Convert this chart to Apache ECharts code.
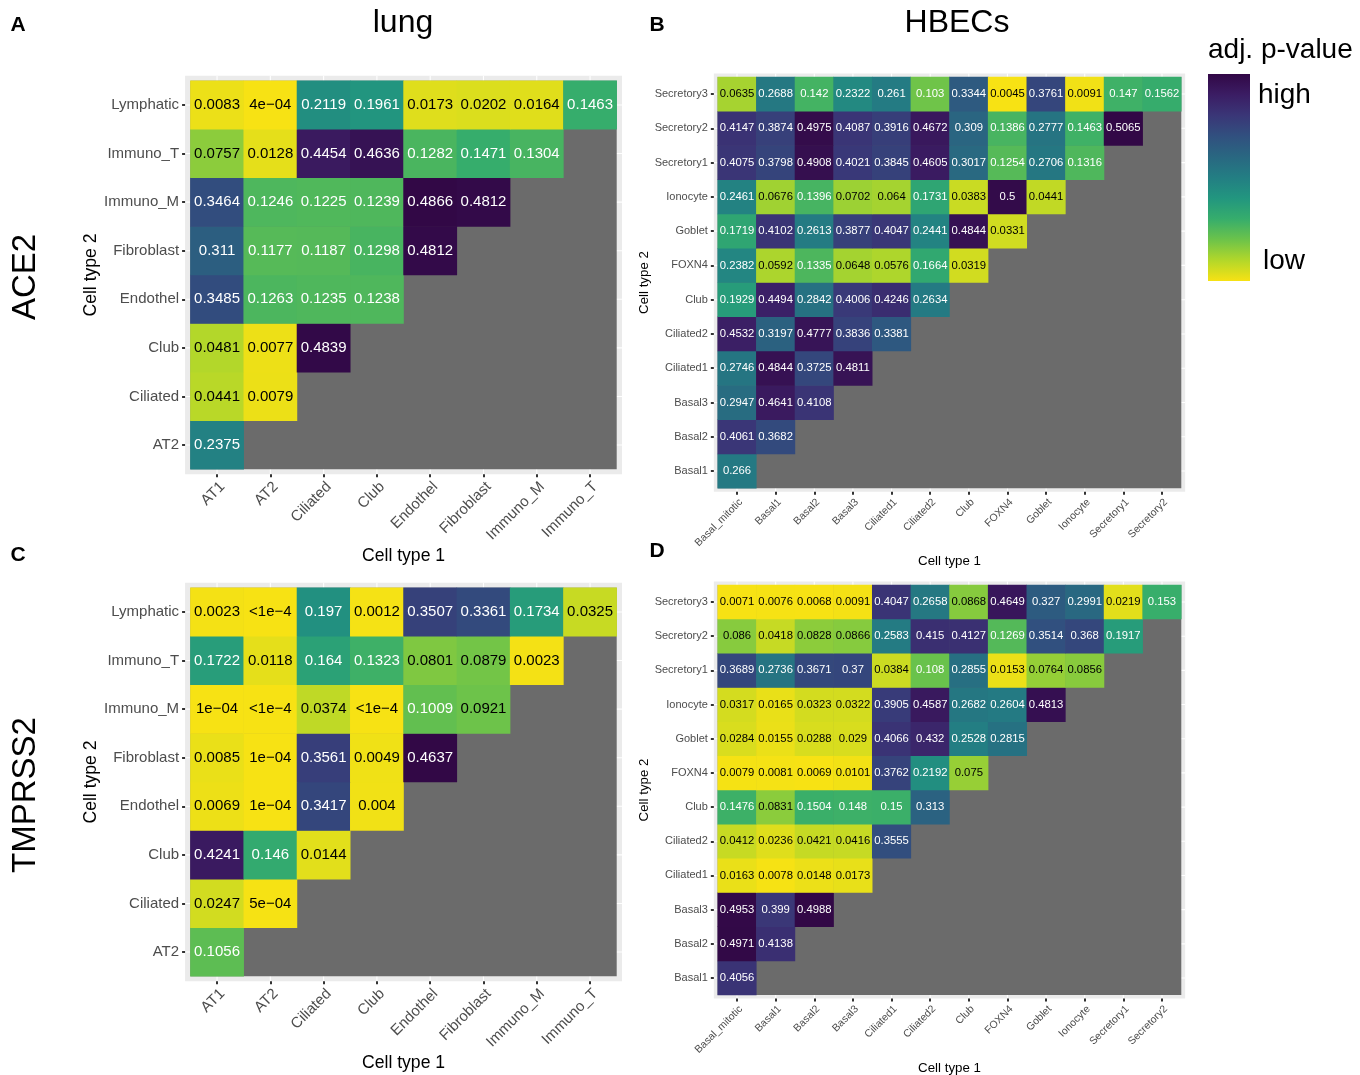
<!DOCTYPE html>
<html><head><meta charset="utf-8">
<script src="https://cdn.jsdelivr.net/npm/echarts@6/dist/echarts.min.js"></script>
<style>html,body{margin:0;padding:0;background:#fff}#c{width:1360px;height:1075px}</style>
</head><body><div id="c"></div>
<script>
// ---------- categories ----------
const lungX = ['AT1','AT2','Ciliated','Club','Endothel','Fibroblast','Immuno_M','Immuno_T'];
const lungY = ['AT2','Ciliated','Club','Endothel','Fibroblast','Immuno_M','Immuno_T','Lymphatic'];
const hbecX = ['Basal_mitotic','Basal1','Basal2','Basal3','Ciliated1','Ciliated2','Club','FOXN4','Goblet','Ionocyte','Secretory1','Secretory2'];
const hbecY = ['Basal1','Basal2','Basal3','Ciliated1','Ciliated2','Club','FOXN4','Goblet','Ionocyte','Secretory1','Secretory2','Secretory3'];

// ---------- values (row per Cell type 2, bottom to top; entries per Cell type 1) ----------
// 0 stands for "<1e-4"
const ace2Lung = [
  [0.2375],
  [0.0441, 0.0079],
  [0.0481, 0.0077, 0.4839],
  [0.3485, 0.1263, 0.1235, 0.1238],
  [0.311, 0.1177, 0.1187, 0.1298, 0.4812],
  [0.3464, 0.1246, 0.1225, 0.1239, 0.4866, 0.4812],
  [0.0757, 0.0128, 0.4454, 0.4636, 0.1282, 0.1471, 0.1304],
  [0.0083, 0.0004, 0.2119, 0.1961, 0.0173, 0.0202, 0.0164, 0.1463]
];
const tmprss2Lung = [
  [0.1056],
  [0.0247, 0.0005],
  [0.4241, 0.146, 0.0144],
  [0.0069, 0.0001, 0.3417, 0.004],
  [0.0085, 0.0001, 0.3561, 0.0049, 0.4637],
  [0.0001, 0, 0.0374, 0, 0.1009, 0.0921],
  [0.1722, 0.0118, 0.164, 0.1323, 0.0801, 0.0879, 0.0023],
  [0.0023, 0, 0.197, 0.0012, 0.3507, 0.3361, 0.1734, 0.0325]
];
const ace2Hbec = [
  [0.266],
  [0.4061, 0.3682],
  [0.2947, 0.4641, 0.4108],
  [0.2746, 0.4844, 0.3725, 0.4811],
  [0.4532, 0.3197, 0.4777, 0.3836, 0.3381],
  [0.1929, 0.4494, 0.2842, 0.4006, 0.4246, 0.2634],
  [0.2382, 0.0592, 0.1335, 0.0648, 0.0576, 0.1664, 0.0319],
  [0.1719, 0.4102, 0.2613, 0.3877, 0.4047, 0.2441, 0.4844, 0.0331],
  [0.2461, 0.0676, 0.1396, 0.0702, 0.064, 0.1731, 0.0383, 0.5, 0.0441],
  [0.4075, 0.3798, 0.4908, 0.4021, 0.3845, 0.4605, 0.3017, 0.1254, 0.2706, 0.1316],
  [0.4147, 0.3874, 0.4975, 0.4087, 0.3916, 0.4672, 0.309, 0.1386, 0.2777, 0.1463, 0.5065],
  [0.0635, 0.2688, 0.142, 0.2322, 0.261, 0.103, 0.3344, 0.0045, 0.3761, 0.0091, 0.147, 0.1562]
];
const tmprss2Hbec = [
  [0.4056],
  [0.4971, 0.4138],
  [0.4953, 0.399, 0.4988],
  [0.0163, 0.0078, 0.0148, 0.0173],
  [0.0412, 0.0236, 0.0421, 0.0416, 0.3555],
  [0.1476, 0.0831, 0.1504, 0.148, 0.15, 0.313],
  [0.0079, 0.0081, 0.0069, 0.0101, 0.3762, 0.2192, 0.075],
  [0.0284, 0.0155, 0.0288, 0.029, 0.4066, 0.432, 0.2528, 0.2815],
  [0.0317, 0.0165, 0.0323, 0.0322, 0.3905, 0.4587, 0.2682, 0.2604, 0.4813],
  [0.3689, 0.2736, 0.3671, 0.37, 0.0384, 0.108, 0.2855, 0.0153, 0.0764, 0.0856],
  [0.086, 0.0418, 0.0828, 0.0866, 0.2583, 0.415, 0.4127, 0.1269, 0.3514, 0.368, 0.1917],
  [0.0071, 0.0076, 0.0068, 0.0091, 0.4047, 0.2658, 0.0868, 0.4649, 0.327, 0.2991, 0.0219, 0.153]
];

// ---------- text ----------
const colTitles = ['lung', 'HBECs'];
const rowTitles = ['ACE2', 'TMPRSS2'];
const panelLetters = ['A', 'B', 'C', 'D'];
const legendTitle = 'adj. p-value';
const legendLabels = ['high', 'low'];

// ---------- style ----------
const FONT = 'Liberation Sans, Arial, Helvetica, sans-serif';
// viridis-like palette, high (dark) -> low (yellow)
const palette = ['#320846','#3b1d64','#3a3677','#31507f','#296781','#237e83','#22967f','#36ad6c','#6cc34a','#b2d72a','#f7e214'];
const NA_GREY = '#6b6b6b';
const PANEL_BG = '#ebebeb';

const panels = [
  {letter:0, xs:lungX, ys:lungY, rows:ace2Lung,    rect:{left:190.4, top:80.7,  width:426.3, height:388.6}, axisFont:15, cellFont:15,   nameFont:17.6, xGap:73, yGap:84, xLabFont:15},
  {letter:1, xs:hbecX, ys:hbecY, rows:ace2Hbec,    rect:{left:717.7, top:76.9,  width:463.6, height:411.3}, axisFont:11, cellFont:11.3, nameFont:13.3, xGap:63, yGap:63, xLabFont:10.5},
  {letter:2, xs:lungX, ys:lungY, rows:tmprss2Lung, rect:{left:190.4, top:587.7, width:426.3, height:388.6}, axisFont:15, cellFont:15,   nameFont:17.6, xGap:73, yGap:84, xLabFont:15},
  {letter:3, xs:hbecX, ys:hbecY, rows:tmprss2Hbec, rect:{left:717.7, top:584.9, width:463.6, height:410.2}, axisFont:11, cellFont:11.3, nameFont:13.3, xGap:63, yGap:63, xLabFont:10.5}
];

function fmt(v) {
  if (v < 1e-4) return '<1e\u22124';
  if (v < 1e-3) {
    const parts = v.toExponential(0).split('e');
    return parts[0] + 'e\u2212' + String(Math.abs(parseInt(parts[1], 10))).padStart(2, '0');
  }
  return String(v);
}

const grids = [], xAxes = [], yAxes = [], series = [], visualMaps = [], graphics = [];

panels.forEach((p, i) => {
  const cw = p.rect.width / p.xs.length, ch = p.rect.height / p.ys.length;
  const mx = 0.1 * cw, my = 0.1 * ch;
  grids.push({left:p.rect.left, top:p.rect.top, width:p.rect.width, height:p.rect.height,
    containLabel:false, outerBoundsMode:'none', show:true, backgroundColor:NA_GREY, borderWidth:0});
  xAxes.push({type:'category', gridIndex:i, data:p.xs, position:'bottom', offset:my,
    axisLine:{show:false}, splitLine:{show:false},
    axisTick:{show:true, alignWithLabel:true, length:3, lineStyle:{color:'#333', width:2}},
    axisLabel:{rotate:45, interval:0, margin:5, align:'right', verticalAlign:'top',
      fontSize:p.xLabFont, color:'#4d4d4d', fontFamily:FONT},
    name:'Cell type 1', nameLocation:'middle', nameGap:p.xGap,
    nameTextStyle:{fontSize:p.nameFont, color:'#000', fontFamily:FONT}});
  yAxes.push({type:'category', gridIndex:i, data:p.ys, position:'left', offset:mx,
    axisLine:{show:false}, splitLine:{show:false},
    axisTick:{show:true, alignWithLabel:true, length:3, lineStyle:{color:'#333', width:2}},
    axisLabel:{interval:0, margin:6, fontSize:p.axisFont, color:'#4d4d4d', fontFamily:FONT},
    name:'Cell type 2', nameLocation:'middle', nameRotate:90, nameGap:p.yGap,
    nameTextStyle:{fontSize:p.nameFont, color:'#000', fontFamily:FONT}});
  const data = [];
  let mn = Infinity, mxv = -Infinity;
  p.rows.forEach((row, yi) => row.forEach((v, xi) => {
    mn = Math.min(mn, v); mxv = Math.max(mxv, v);
    data.push({value:[xi, yi, v], label:{color: v < 0.1 ? '#000' : '#fff'}});
  }));
  series.push({type:'heatmap', xAxisIndex:i, yAxisIndex:i, data:data, progressive:0,
    emphasis:{disabled:true},
    label:{show:true, fontSize:p.cellFont, fontFamily:FONT, formatter: q => fmt(q.value[2])}});
  visualMaps.push({type:'continuous', show:false, seriesIndex:i, dimension:2, min:mn, max:mxv,
    inRange:{color:palette.slice().reverse()}});
  // panel background with white major gridlines (visible in the expansion margin)
  const bx = p.rect.left - mx, by = p.rect.top - my, bw = p.rect.width + 2*mx, bh = p.rect.height + 2*my;
  graphics.push({type:'rect', z:-20, silent:true, shape:{x:bx, y:by, width:bw, height:bh}, style:{fill:PANEL_BG}});
  p.xs.forEach((_, k) => {
    const x = p.rect.left + (k + 0.5) * cw;
    graphics.push({type:'line', z:-19, silent:true, shape:{x1:x, y1:by, x2:x, y2:by+bh}, style:{stroke:'#fff', lineWidth:1.1}});
  });
  p.ys.forEach((_, k) => {
    const y = p.rect.top + (k + 0.5) * ch;
    graphics.push({type:'line', z:-19, silent:true, shape:{x1:bx, y1:y, x2:bx+bw, y2:y}, style:{stroke:'#fff', lineWidth:1.1}});
  });
});

// titles
const txt = (text, x, y, size, opts) => Object.assign({type:'text', x:x, y:y, silent:true,
  style:Object.assign({text:text, fontSize:size, fontFamily:FONT, fill:'#000', align:'center', verticalAlign:'middle'}, (opts && opts.style) || {})},
  opts && opts.rotation !== undefined ? {rotation:opts.rotation} : {});
graphics.push(txt(colTitles[0], 403, 23, 32));
graphics.push(txt(colTitles[1], 957, 23, 32));
graphics.push(txt(rowTitles[0], 26, 277, 33, {rotation:Math.PI/2}));
graphics.push(txt(rowTitles[1], 26, 795, 33, {rotation:Math.PI/2}));
const letterPos = [[18, 25], [657, 25], [18, 555], [657, 551]];
panelLetters.forEach((l, k) => graphics.push(txt(l, letterPos[k][0], letterPos[k][1], 21, {style:{fontWeight:'bold'}})));

// legend
graphics.push(txt(legendTitle, 1208, 50, 28, {style:{align:'left'}}));
graphics.push({type:'rect', silent:true, shape:{x:1208, y:74, width:42, height:207},
  style:{fill:{type:'linear', x:0, y:0, x2:0, y2:1,
    colorStops:palette.map((c, k) => ({offset:k/(palette.length-1), color:c}))}}});
graphics.push(txt(legendLabels[0], 1258, 95, 28, {style:{align:'left'}}));
graphics.push(txt(legendLabels[1], 1263, 261, 28, {style:{align:'left'}}));

const chart = echarts.init(document.getElementById('c'), null, {renderer:'canvas'});
chart.setOption({
  animation:false,
  backgroundColor:'#fff',
  textStyle:{fontFamily:FONT},
  grid:grids, xAxis:xAxes, yAxis:yAxes, visualMap:visualMaps, series:series,
  graphic:{elements:graphics}
});
</script>
</body></html>
